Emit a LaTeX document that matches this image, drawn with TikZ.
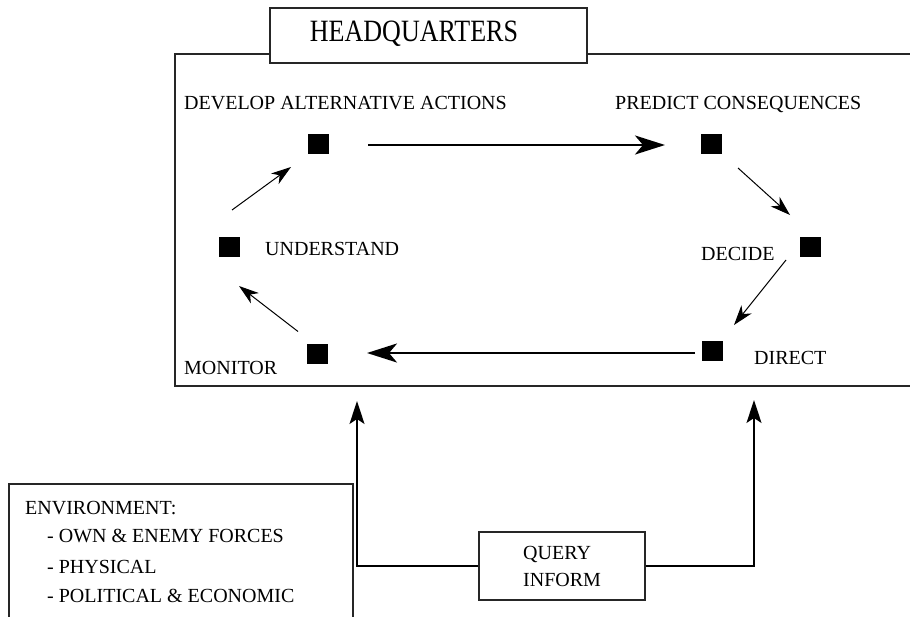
\documentclass[tikz,border=0pt]{standalone}
\usepackage{fontspec}
\setmainfont{Liberation Serif}
\usetikzlibrary{arrows.meta}
\tikzset{
  lbl/.style={anchor=base west, inner sep=0pt, font=\fontsize{20}{22}\selectfont},
  sq/.style={fill=black, draw=none, minimum width=21pt, minimum height=20pt, inner sep=0pt},
  frame/.style={draw=black!85, line width=1.3pt},
  thickarrow/.style={line width=2.6pt, -{Stealth[length=30pt, width=19pt, inset=8pt]}},
  thinarrow/.style={line width=1pt, -{Stealth[length=20pt, width=13pt, inset=6pt]}},
  uparrow/.style={line width=1.5pt, -{Stealth[length=23pt, width=15pt, inset=5pt]}},
}
\begin{document}
\begin{tikzpicture}[x=1pt, y=-1pt]
\useasboundingbox (0,0) rectangle (910,616);
% headquarters frame
\draw[frame] (910,54) -- (175,54) -- (175,386) -- (910,386);
\node[frame, fill=white, minimum width=317pt, minimum height=55pt, inner sep=0pt] (hqbox) at (428.5,35.5) {};
\node[anchor=base, inner sep=0pt, font=\fontsize{31}{31}\selectfont] (hq) at (414,41) {\scalebox{0.84}[1]{HEADQUARTERS}};
% squares
\node[sq] (dev) at (318,144) {};
\node[sq] (pred) at (711,144) {};
\node[sq] (und) at (229,247) {};
\node[sq] (dec) at (810,247) {};
\node[sq] (dir) at (712,351) {};
\node[sq] (mon) at (317,353.5) {};
% labels
\node[lbl] (tdev) at (184,109) {DEVELOP ALTERNATIVE ACTIONS};
\node[lbl] (tpred) at (615,109) {PREDICT CONSEQUENCES};
\node[lbl] (tund) at (265,255.5) {UNDERSTAND};
\node[lbl] (tmon) at (184,374) {MONITOR};
\node[lbl] (tdec) at (701,260) {DECIDE};
\node[lbl] (tdir) at (754,364) {DIRECT};
% cycle arrows
\draw[thickarrow] ([shift={(50,1)}]dev.center) -- ([shift={(-46,1)}]pred.center);
\draw[thinarrow] ([shift={(27,24)}]pred.center) -- ([shift={(-20,-32)}]dec.center);
\draw[thinarrow] ([shift={(-24,13)}]dec.center) -- ([shift={(22,-26)}]dir.center);
\draw[thickarrow] ([shift={(-17,2)}]dir.center) -- ([shift={(50,-0.5)}]mon.center);
\draw[thinarrow] ([shift={(-19,-22)}]mon.center) -- ([shift={(10,39)}]und.center);
\draw[thinarrow] ([shift={(3,-37)}]und.center) -- ([shift={(-27,23)}]dev.center);
% environment box
\draw[frame] (9,640) -- (9,484) -- (353,484) -- (353,640);
\node[lbl] (env0) at (25,514) {ENVIRONMENT:};
\node[lbl] (env1) at (47,542) {- OWN \& ENEMY FORCES};
\node[lbl] (env2) at (47,573) {- PHYSICAL};
\node[lbl] (env3) at (47,602) {- POLITICAL \& ECONOMIC};
% query box
\node[frame, minimum width=166pt, minimum height=68pt, inner sep=0pt] (qbox) at (562,566) {};
\node[lbl] (tq1) at (523,559) {QUERY};
\node[lbl] (tq2) at (523,586) {INFORM};
% connectors to headquarters
\coordinate (inL) at (357,401);
\coordinate (inR) at (754,400);
\draw[uparrow] (qbox.west) -| (inL);
\draw[uparrow] (qbox.east) -| (inR);
\end{tikzpicture}
\end{document}
